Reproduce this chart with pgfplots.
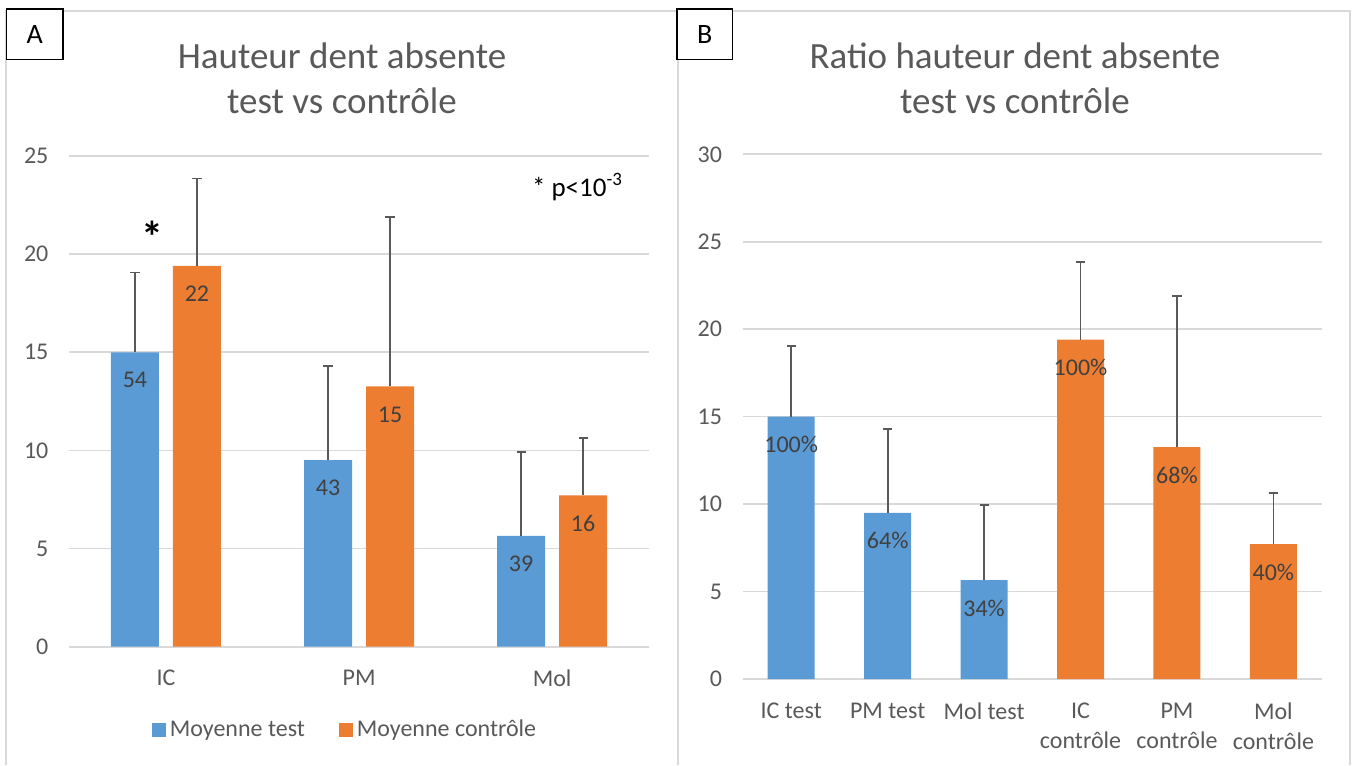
\documentclass[border=0pt]{standalone}
\usepackage{fontspec}
\setmainfont{Carlito}
\usepackage{pgfplots}
\pgfplotsset{compat=1.18}
\definecolor{cblue}{HTML}{5B9BD5}
\definecolor{corange}{HTML}{ED7D31}
\definecolor{cgrid}{HTML}{D9D9D9}
\definecolor{ctext}{HTML}{595959}
\definecolor{clabel}{HTML}{404040}
\pgfplotsset{
  mystyle/.style={
    scale only axis,
    axis line style={draw=none},
    major tick length=0pt,
    ymajorgrids,
    grid style={cgrid, line width=0.8pt},
    ymin=0,
    tick label style={font=\fontsize{12}{14}\selectfont, text=ctext},
    /pgf/number format/assume math mode=true,
    yticklabel style={xshift=-7pt},
    error bars/y dir=plus,
    error bars/y explicit,
    error bars/error bar style={ctext, line width=0.9pt},
    error bars/error mark options={ctext, line width=0.9pt, mark size=2.3pt, rotate=90},
    nodes near coords,
    point meta=explicit symbolic,
    every node near coord/.append style={font=\fontsize{12}{14}\selectfont, text=clabel, anchor=center, yshift=-14pt},
  }
}
\begin{document}
\begin{tikzpicture}
\path[use as bounding box] (0,0) rectangle (676pt,382.5pt);
% frames
\draw[cgrid, line width=1.2pt] (3pt,0pt) -- (3pt,377pt) -- (675pt,377pt) -- (675pt,0pt);
\draw[cgrid, line width=1.2pt] (339pt,0pt) -- (339pt,377pt);

% Panel A
\begin{axis}[mystyle,
  at={(34.7pt,59.15pt)}, anchor=south west,
  width=289.65pt, height=245.35pt,
  ymax=25, ytick={0,5,10,15,20,25},
  xmin=-0.5, xmax=2.5, xtick={0,1,2}, xticklabels={IC,PM,Mol},
  xticklabel style={yshift=-8pt},
  ybar=7pt, bar width=24pt,
  legend style={at={(0.4775,-0.1697)}, anchor=center, draw=none, fill=none,
    legend columns=2, font=\fontsize{12}{14}\selectfont, text=ctext,
    /tikz/every even column/.append style={column sep=15pt}},
  legend image code/.code={\fill[#1, draw=none] (0pt,-3.5pt) rectangle (7pt,3.5pt);},
]
\addplot[fill=cblue, draw=none] table[x=x, y=y, y error plus=e, meta=lab] {
x y e lab
0 15.0 4.06 54
1 9.5 4.8 43
2 5.65 4.28 39
};
\addplot[fill=corange, draw=none] table[x=x, y=y, y error plus=e, meta=lab] {
x y e lab
0 19.4 4.45 22
1 13.26 8.62 15
2 7.71 2.93 16
};
\legend{Moyenne test, Moyenne contrôle}
\end{axis}

% Panel B
\begin{axis}[mystyle,
  at={(371.5pt,43pt)}, anchor=south west,
  width=289.3pt, height=262.35pt,
  ymax=30, ytick={0,5,10,15,20,25,30},
  xmin=-0.5, xmax=5.5, xtick={0,1,2,3,4,5},
  xticklabels={IC test, PM test, Mol test, {IC\\contrôle}, {PM\\contrôle}, {Mol\\contrôle}},
  xticklabel style={align=center, font=\fontsize{12}{15}\selectfont, yshift=-8.5pt},
  ybar, bar width=23.5pt,
]
\addplot[fill=cblue, draw=none, bar shift=0pt] table[x=x, y=y, y error plus=e, meta=lab] {
x y e lab
0 15.0 4.06 100\%
1 9.5 4.8 64\%
2 5.65 4.28 34\%
};
\addplot[fill=corange, draw=none, bar shift=0pt] table[x=x, y=y, y error plus=e, meta=lab] {
x y e lab
3 19.4 4.45 100\%
4 13.26 8.62 68\%
5 7.71 2.93 40\%
};
\end{axis}

% titles
\node[align=center, font=\fontsize{18.5}{22.5}\selectfont, text=ctext] at (171pt,343.25pt) {Hauteur dent absente\\test vs contrôle};
\node[align=center, font=\fontsize{18.5}{22.5}\selectfont, text=ctext] at (507.5pt,343.25pt) {Ratio hauteur dent absente\\test vs contrôle};

% annotations
\node[font=\fontsize{22}{24}\selectfont\bfseries] at (76pt,264pt) {*};
\node[anchor=east, font=\fontsize{13.5}{15}\selectfont] at (315pt,289pt) {* p<10\textsuperscript{-3}};

% panel letters
\draw[black, line width=0.6pt, fill=white] (3.35pt,352.85pt) rectangle (31.5pt,378pt);
\node[font=\fontsize{14}{16}\selectfont] at (17.4pt,365.4pt) {A};
\draw[black, line width=0.6pt, fill=white] (338.5pt,352.85pt) rectangle (366.35pt,378pt);
\node[font=\fontsize{14}{16}\selectfont] at (352.4pt,365.4pt) {B};
\end{tikzpicture}
\end{document}
